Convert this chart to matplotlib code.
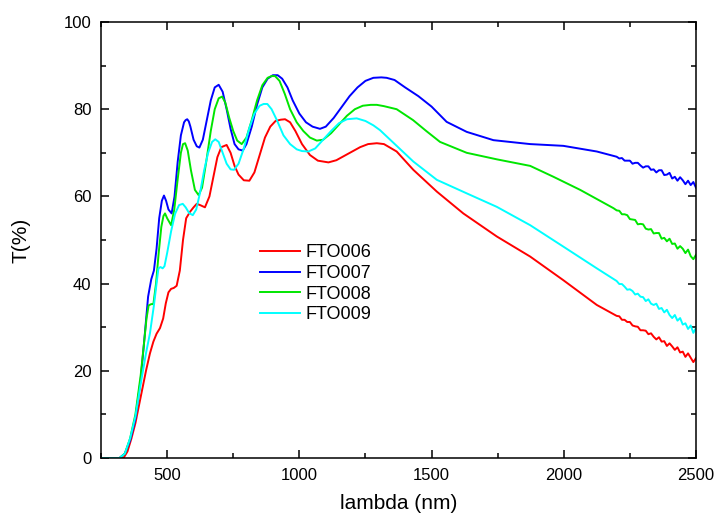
import matplotlib
matplotlib.use("Agg")
import matplotlib.pyplot as plt
from matplotlib.ticker import MultipleLocator

plt.rcParams['font.family'] = ['Liberation Sans', 'DejaVu Sans']

# FTO006
nm_006 = [250, 335, 350, 365, 380, 400, 420, 435, 448, 460, 473, 485, 495, 505, 515, 525, 536, 548,
          560, 572, 587, 600, 612, 625, 643, 660, 675, 690, 705, 725, 740, 755, 770, 790, 811, 830,
          850, 870, 890, 910, 930, 946, 965, 985, 1010, 1040, 1070, 1110, 1140, 1170, 1200, 1230,
          1260, 1293, 1320, 1368, 1431, 1520, 1620, 1747, 1873, 1998, 2125]
t_006 = [0, 0, 1.5, 4.5, 8, 14, 20, 24, 26.7, 28.5, 29.8, 32, 35.5, 38, 38.8, 39, 39.5, 43,
         50, 55, 56.5, 57.5, 58.3, 58, 57.5, 60, 64.5, 69, 71.3, 71.8, 70, 67, 65, 63.7, 63.6, 65.5,
         69.5, 73.5, 76, 77.3, 77.6, 77.7, 77, 75, 72, 69.5, 68.2, 67.8, 68.3, 69.3, 70.3, 71.3,
         72, 72.2, 72, 70.3, 66.1, 61.1, 56.1, 50.8, 46.2, 40.8, 35.1]

# FTO007
nm_007 = [250, 320, 340, 360, 380, 400, 415, 428, 440, 450, 460, 470, 480, 488, 496, 505, 517, 528,
          540, 552, 564, 570, 576, 582, 588, 600, 612, 622, 635, 650, 665, 680, 695, 710, 725, 740,
          755, 770, 786, 800, 820, 840, 860, 880, 900, 918, 935, 955, 975, 1000, 1025, 1050, 1078,
          1100, 1130, 1160, 1190, 1220, 1250, 1280, 1310, 1330, 1360, 1400, 1450, 1500, 1557, 1633,
          1734, 1873, 1998, 2125]
t_007 = [0, 0, 1, 4, 9, 18, 28, 37, 41, 43, 48, 55, 59, 60.2, 59, 57, 56.1, 60,
         68, 74, 77, 77.5, 77.7, 77.2, 76, 73, 71.5, 71.2, 73, 77.5, 82, 85, 85.6, 84, 80, 75.5,
         72, 70.8, 70.5, 72, 76, 81, 85, 87, 87.8, 87.8, 87, 85, 82, 79, 77, 76, 75.5,
         76, 78, 80.5, 83, 85, 86.5, 87.2, 87.3, 87.2, 86.7, 85, 83, 80.6, 77.1, 74.8,
         72.9, 72.0, 71.6, 70.3]

# FTO008
nm_008 = [250, 320, 340, 360, 380, 400, 412, 422, 430, 440, 448, 458, 468, 478, 486, 492, 500, 515,
          527, 540, 552, 560, 568, 578, 590, 605, 619, 632, 648, 665, 680, 695, 708, 720, 735, 750,
          765, 782, 800, 820, 840, 860, 880, 895, 908, 925, 945, 965, 990, 1015, 1040, 1066, 1090,
          1120, 1150, 1180, 1210, 1240, 1270, 1293, 1320, 1368, 1430, 1480, 1532, 1633, 1747, 1873,
          1961, 2062, 2188]
t_008 = [0, 0, 1, 4.5, 10, 19, 26, 32, 35, 35.3, 35.3, 40, 47, 53, 55.5, 56.1, 55, 53.4,
         57, 64, 70, 72, 72.2, 70.5, 66, 61.5, 60.3, 62, 68, 75, 80, 82.5, 82.9, 81.5, 78, 75,
         72.8, 72.0, 73.5, 77.5, 82, 85.5, 87.2, 87.6, 87.6, 86.5, 83.5, 80, 77, 75, 73.5, 72.8, 73,
         74.5, 76.5, 78.5, 80, 80.8, 81, 81, 80.7, 80, 77.5, 75, 72.5, 70, 68.5, 67,
         64.5, 61.5, 57.3]

# FTO009
nm_009 = [250, 320, 340, 360, 380, 400, 420, 435, 450, 460, 467, 475, 483, 490, 500, 515, 530, 545,
          559, 570, 583, 597, 610, 625, 640, 655, 670, 682, 695, 710, 725, 740, 753, 770, 790, 810,
          830, 850, 865, 879, 895, 915, 940, 965, 990, 1010, 1034, 1060, 1090, 1120, 1150, 1180,
          1217, 1250, 1280, 1305, 1368, 1431, 1520, 1633, 1747, 1873, 1998, 2125]
t_009 = [0, 0, 1, 4.5, 9.5, 17, 24, 28.6, 35, 40, 43.5, 43.8, 43.5, 44, 47, 52, 56, 58,
         58.3, 57.5, 56.2, 55.7, 57, 61, 66, 70, 72.5, 73.1, 72.5, 70, 67.5, 66.2, 66.1, 67.5, 71, 75.5,
         79, 80.8, 81.2, 81.2, 80, 77.5, 74, 72, 70.8, 70.4, 70.3, 71, 73, 75, 76.8, 77.7,
         77.9, 77.3, 76.3, 75.2, 71.6, 68, 63.8, 60.7, 57.6, 53.4, 48.5, 43.5]

# noisy tails, 2200-2500 nm every 10 nm
nm_tail = list(range(2200, 2501, 10))
tail_006 = [32.6, 32.5, 31.7, 31.7, 31.2, 31.2, 30.4, 30.2, 30.1, 29.3, 29.3, 29.2, 28.4, 28.6, 27.8, 27.2,
            27.7, 26.7, 26.8, 25.7, 26.3, 25.6, 24.8, 25.4, 24.2, 24.4, 23.2, 24.0, 23.0, 22.0, 22.9]
tail_007 = [69.1, 68.7, 68.8, 68.2, 68.2, 68.2, 67.5, 67.7, 67.7, 67.1, 66.6, 66.9, 66.9, 66.1, 66.2, 65.5,
            66.0, 66.0, 64.9, 65.0, 65.4, 64.1, 64.5, 63.6, 64.4, 63.7, 62.8, 63.6, 62.6, 63.3, 62.0]
tail_008 = [56.8, 56.7, 55.9, 55.9, 55.7, 54.8, 54.7, 54.6, 53.6, 53.7, 53.6, 52.6, 52.4, 52.5, 51.5, 51.6,
            51.6, 50.3, 50.5, 49.7, 50.3, 49.1, 49.2, 48.0, 48.6, 48.0, 47.0, 47.8, 46.3, 45.6, 46.6]
tail_009 = [40.6, 39.9, 39.9, 39.3, 38.6, 38.7, 38.3, 37.5, 37.7, 37.0, 36.9, 36.0, 36.4, 35.4, 35.1, 35.4,
            34.2, 34.4, 33.4, 34.0, 32.8, 32.1, 32.8, 31.5, 32.1, 30.6, 30.9, 29.6, 30.4, 28.7, 29.8]

series = [
    ("FTO006", nm_006 + nm_tail, t_006 + tail_006, "#ff0000"),
    ("FTO007", nm_007 + nm_tail, t_007 + tail_007, "#0000ff"),
    ("FTO008", nm_008 + nm_tail, t_008 + tail_008, "#00e600"),
    ("FTO009", nm_009 + nm_tail, t_009 + tail_009, "#00ffff"),
]

fig = plt.figure(figsize=(7.15, 5.19), dpi=100)
ax = fig.add_axes([0.1413, 0.1175, 0.8321, 0.8401])

for name, x, y, c in series:
    ax.plot(x, y, color=c, lw=1.4, label=name)

ax.set_xlim(250, 2500)
ax.set_ylim(0, 100)
ax.xaxis.set_major_locator(MultipleLocator(500))
ax.xaxis.set_minor_locator(MultipleLocator(250))
ax.yaxis.set_major_locator(MultipleLocator(20))
ax.yaxis.set_minor_locator(MultipleLocator(10))
ax.tick_params(which='both', direction='in', top=True, right=True, width=1.1, labelsize=12, pad=7)
ax.tick_params(which='major', length=5.5)
ax.tick_params(which='minor', length=3.5)
for s in ax.spines.values():
    s.set_linewidth(1.1)

ax.set_xlabel("lambda (nm)", fontsize=15, labelpad=8)
ax.set_ylabel("T(%)", fontsize=15, labelpad=24)

ax.legend(loc='upper left', bbox_to_anchor=(0.268, 0.49), frameon=False, fontsize=13,
          handlelength=2.2, handletextpad=0.3, labelspacing=0.2, borderpad=0, borderaxespad=0)

fig.savefig("out.png", dpi=100)
